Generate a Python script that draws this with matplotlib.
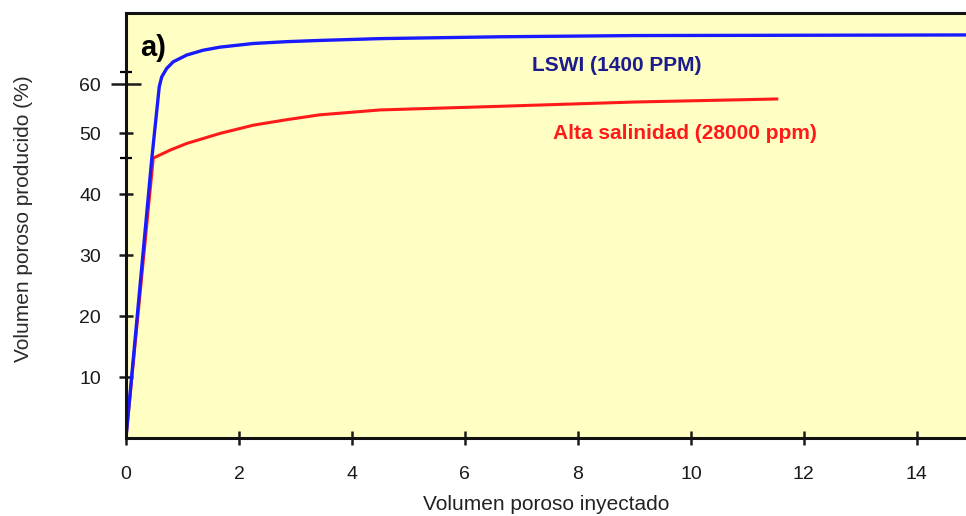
import matplotlib.pyplot as plt

plt.rcParams['font.family'] = ['Liberation Sans', 'DejaVu Sans']

# LSWI (1400 ppm) curve
lswi_x = [0.0, 0.455, 0.589, 0.632, 0.72, 0.837, 1.074, 1.368, 1.664, 2.253,
          2.844, 3.43, 4.5, 6.62, 9.0, 14.87]
lswi_y = [0.0, 45.6, 57.6, 59.2, 60.6, 61.7, 62.8, 63.6, 64.1, 64.7,
          65.0, 65.2, 65.5, 65.8, 66.0, 66.1]

# high salinity (28000 ppm) curve
alta_x = [0.0, 0.483, 0.779, 1.074, 1.664, 2.253, 2.844, 3.43, 4.5, 6.62, 9.0, 11.52]
alta_y = [0.0, 45.9, 47.2, 48.3, 49.95, 51.3, 52.2, 53.0, 53.8, 54.4, 55.1, 55.6]

x_ticks = [0, 2, 4, 6, 8, 10, 12, 14]
y_ticks = [10, 20, 30, 40, 50]

fig = plt.figure(figsize=(9.66, 5.16), dpi=100)
ax = fig.add_axes([0.1304, 0.1512, 0.8696, 0.8236])
ax.set_facecolor('#ffffc4')

ax.plot(alta_x, alta_y, color='#ff1a1a', linewidth=2.2, solid_joinstyle='round')
ax.plot(lswi_x, lswi_y, color='#1a1aff', linewidth=2.4, solid_joinstyle='round')

ax.set_xlim(0, 14.87)
ax.set_ylim(0, 69.7)

ax.set_xticks(x_ticks)
ax.set_yticks(y_ticks + [58])
ax.set_yticklabels([str(v) for v in y_ticks] + ['60'])
ax.set_yticks([46, 60], minor=True)
ax.tick_params(axis='both', which='major', direction='inout', length=10, width=1.8,
               labelsize=14, colors='#1a1a1a')
ax.tick_params(axis='x', pad=15)
ax.tick_params(axis='y', pad=13)
ax.tick_params(axis='y', which='minor', direction='inout', length=8, width=1.6)
ax.yaxis.get_major_ticks()[-1].tick1line.set_markersize(22)

for s in ['left', 'bottom', 'top']:
    ax.spines[s].set_linewidth(2.2)
    ax.spines[s].set_color('#111111')
ax.spines['right'].set_visible(False)

ax.set_xlabel('Volumen poroso inyectado', fontsize=15, color='#222222', labelpad=9)
ax.set_ylabel('Volumen poroso producido (%)', fontsize=15, color='#2a2a2a')
ax.yaxis.set_label_coords(-0.1107, 0.515)

ax.text(0.25, 63.9, 'a)', fontsize=21, fontweight='bold', color='black', va='center')
ax.text(7.19, 61.1, 'LSWI (1400 PPM)', fontsize=15, fontweight='bold',
        color='#1c1c8c', va='center')
ax.text(7.56, 50.0, 'Alta salinidad (28000 ppm)', fontsize=15, fontweight='bold',
        color='#ff1a1a', va='center')

fig.savefig('out.png', dpi=100)
